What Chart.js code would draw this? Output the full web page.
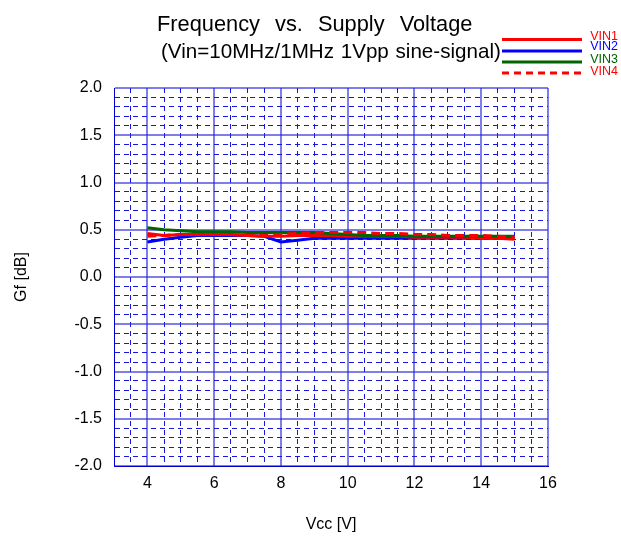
<!DOCTYPE html>
<html>
<head>
<meta charset="utf-8">
<script src="https://cdn.jsdelivr.net/npm/chart.js@4.4.1/dist/chart.umd.min.js"></script>
<style>
  body { margin: 0; background: #fff; }
</style>
</head>
<body>
<canvas id="gfChart" width="621" height="536"></canvas>
<script>
// supply voltage points [V]
const vcc = [4, 4.5, 5, 5.5, 6, 6.5, 7, 7.5, 8, 8.5, 9, 9.5, 10, 10.5, 11, 11.5, 12, 12.5, 13, 13.5, 14, 14.5, 15];

// Gf [dB] per input signal
const vin1 = [0.46, 0.44, 0.45, 0.45, 0.45, 0.45, 0.44, 0.43, 0.43, 0.44, 0.44, 0.44, 0.43, 0.43, 0.43, 0.43, 0.42, 0.42, 0.42, 0.42, 0.41, 0.41, 0.40];
const vin2 = [0.37, 0.40, 0.42, 0.44, 0.44, 0.44, 0.44, 0.43, 0.37, 0.39, 0.41, 0.41, 0.41, 0.41, 0.41, 0.41, 0.41, 0.41, 0.41, 0.41, 0.41, 0.41, 0.41];
const vin3 = [0.52, 0.50, 0.49, 0.48, 0.48, 0.48, 0.47, 0.47, 0.47, 0.47, 0.47, 0.46, 0.45, 0.44, 0.44, 0.44, 0.43, 0.43, 0.43, 0.43, 0.43, 0.43, 0.43];
const vin4 = [0.43, 0.44, 0.45, 0.45, 0.45, 0.45, 0.44, 0.44, 0.45, 0.46, 0.47, 0.47, 0.47, 0.47, 0.46, 0.46, 0.45, 0.45, 0.44, 0.44, 0.44, 0.43, 0.42];

const seriesNames = ['VIN1', 'VIN2', 'VIN3', 'VIN4'];
const titleLines = ['Frequency vs. Supply Voltage', '(Vin=10MHz/1MHz 1Vpp sine-signal)'];

const FONT = "Arial, 'Liberation Sans', sans-serif";
Chart.defaults.color = '#000';
Chart.defaults.font.family = FONT;

const pts = (ys) => vcc.map((x, i) => ({ x: x, y: ys[i] }));

function line(label, ys, color, dash, order) {
  return {
    label: label,
    data: pts(ys),
    borderColor: color,
    backgroundColor: color,
    borderWidth: 3,
    borderDash: dash,
    pointRadius: 0,
    tension: 0,
    order: order
  };
}

const isMajorY = (v) => Math.abs(v * 2 - Math.round(v * 2)) < 1e-6;
const isMajorX = (v) => Math.abs(v / 2 - Math.round(v / 2)) < 1e-6;

// title lines + legend drawn by hand (legend sits top right, line then text)
const decor = {
  id: 'decor',
  afterDraw(chart) {
    const c = chart.ctx;
    c.save();
    c.fillStyle = '#000';
    c.textAlign = 'left';
    c.textBaseline = 'alphabetic';
    c.font = '21.8px ' + FONT;
    c.wordSpacing = '9px';
    c.fillText(titleLines[0], 157, 31.3);
    c.font = '20.6px ' + FONT;
    c.wordSpacing = '1px';
    c.fillText(titleLines[1], 161, 58);
    c.wordSpacing = '0px';

    const ly = [39.5, 51, 62, 73];
    const ty = [36.5, 47, 59.5, 72];
    chart.data.datasets.forEach((ds, i) => {
      c.strokeStyle = ds.borderColor;
      c.lineWidth = 3;
      c.setLineDash(ds.borderDash && ds.borderDash.length ? [7, 5] : []);
      c.beginPath();
      c.moveTo(502, ly[i]);
      c.lineTo(582, ly[i]);
      c.stroke();
      c.setLineDash([]);
      c.fillStyle = ds.borderColor;
      c.font = '12.5px ' + FONT;
      c.textAlign = 'right';
      c.textBaseline = 'middle';
      c.fillText(ds.label, 618, ty[i]);
    });
    c.restore();
  }
};

new Chart('gfChart', {
  type: 'line',
  data: {
    datasets: [
      line(seriesNames[0], vin1, '#ff0000', [], 2),
      line(seriesNames[1], vin2, '#0000ff', [], 3),
      line(seriesNames[2], vin3, '#006400', [], 1),
      line(seriesNames[3], vin4, '#ff0000', [9, 5], 0)
    ]
  },
  options: {
    responsive: false,
    animation: false,
    devicePixelRatio: 1,
    layout: { padding: { top: 88, right: 73, bottom: 0, left: 0 } },
    plugins: {
      legend: { display: false },
      title: { display: false },
      tooltip: { enabled: false }
    },
    scales: {
      x: {
        type: 'linear',
        min: 3,
        max: 16,
        afterFit: (s) => { s.height = 70; },
        ticks: {
          stepSize: 0.5,
          autoSkip: false,
          maxRotation: 0,
          padding: 8,
          font: { size: 16 },
          callback: (v) => (isMajorX(v) && v >= 4 ? String(v) : '')
        },
        grid: {
          drawTicks: false,
          color: (ctx) => (ctx.tick && isMajorX(ctx.tick.value) ? 'rgba(40,40,220,0.6)' : '#1818dd'),
          lineWidth: (ctx) => (ctx.tick && isMajorX(ctx.tick.value) ? 2 : 1)
        },
        border: {
          display: true,
          color: '#0000cc',
          width: 1,
          dash: (ctx) => (ctx.tick && !isMajorX(ctx.tick.value) ? [5, 4] : [])
        },
        title: {
          display: true,
          text: 'Vcc [V]',
          font: { size: 16 },
          padding: { top: 0, bottom: 2 }
        }
      },
      y: {
        type: 'linear',
        min: -2,
        max: 2,
        afterFit: (s) => { s.width = 114; },
        ticks: {
          stepSize: 0.1,
          autoSkip: false,
          padding: 12,
          font: { size: 16 },
          callback: (v) => (isMajorY(v) ? v.toFixed(1) : '')
        },
        grid: {
          drawTicks: false,
          color: (ctx) => (ctx.tick && isMajorY(ctx.tick.value) ? 'rgba(40,40,220,0.6)' : '#1818dd'),
          lineWidth: (ctx) => (ctx.tick && isMajorY(ctx.tick.value) ? 2 : 1)
        },
        border: {
          display: true,
          color: '#0000cc',
          width: 1,
          dash: (ctx) => (ctx.tick && !isMajorY(ctx.tick.value) ? [5, 4] : [])
        },
        title: {
          display: true,
          text: 'Gf [dB]',
          font: { size: 16 },
          padding: { top: 12, bottom: 0 }
        }
      }
    }
  },
  plugins: [decor]
});
</script>
</body>
</html>
